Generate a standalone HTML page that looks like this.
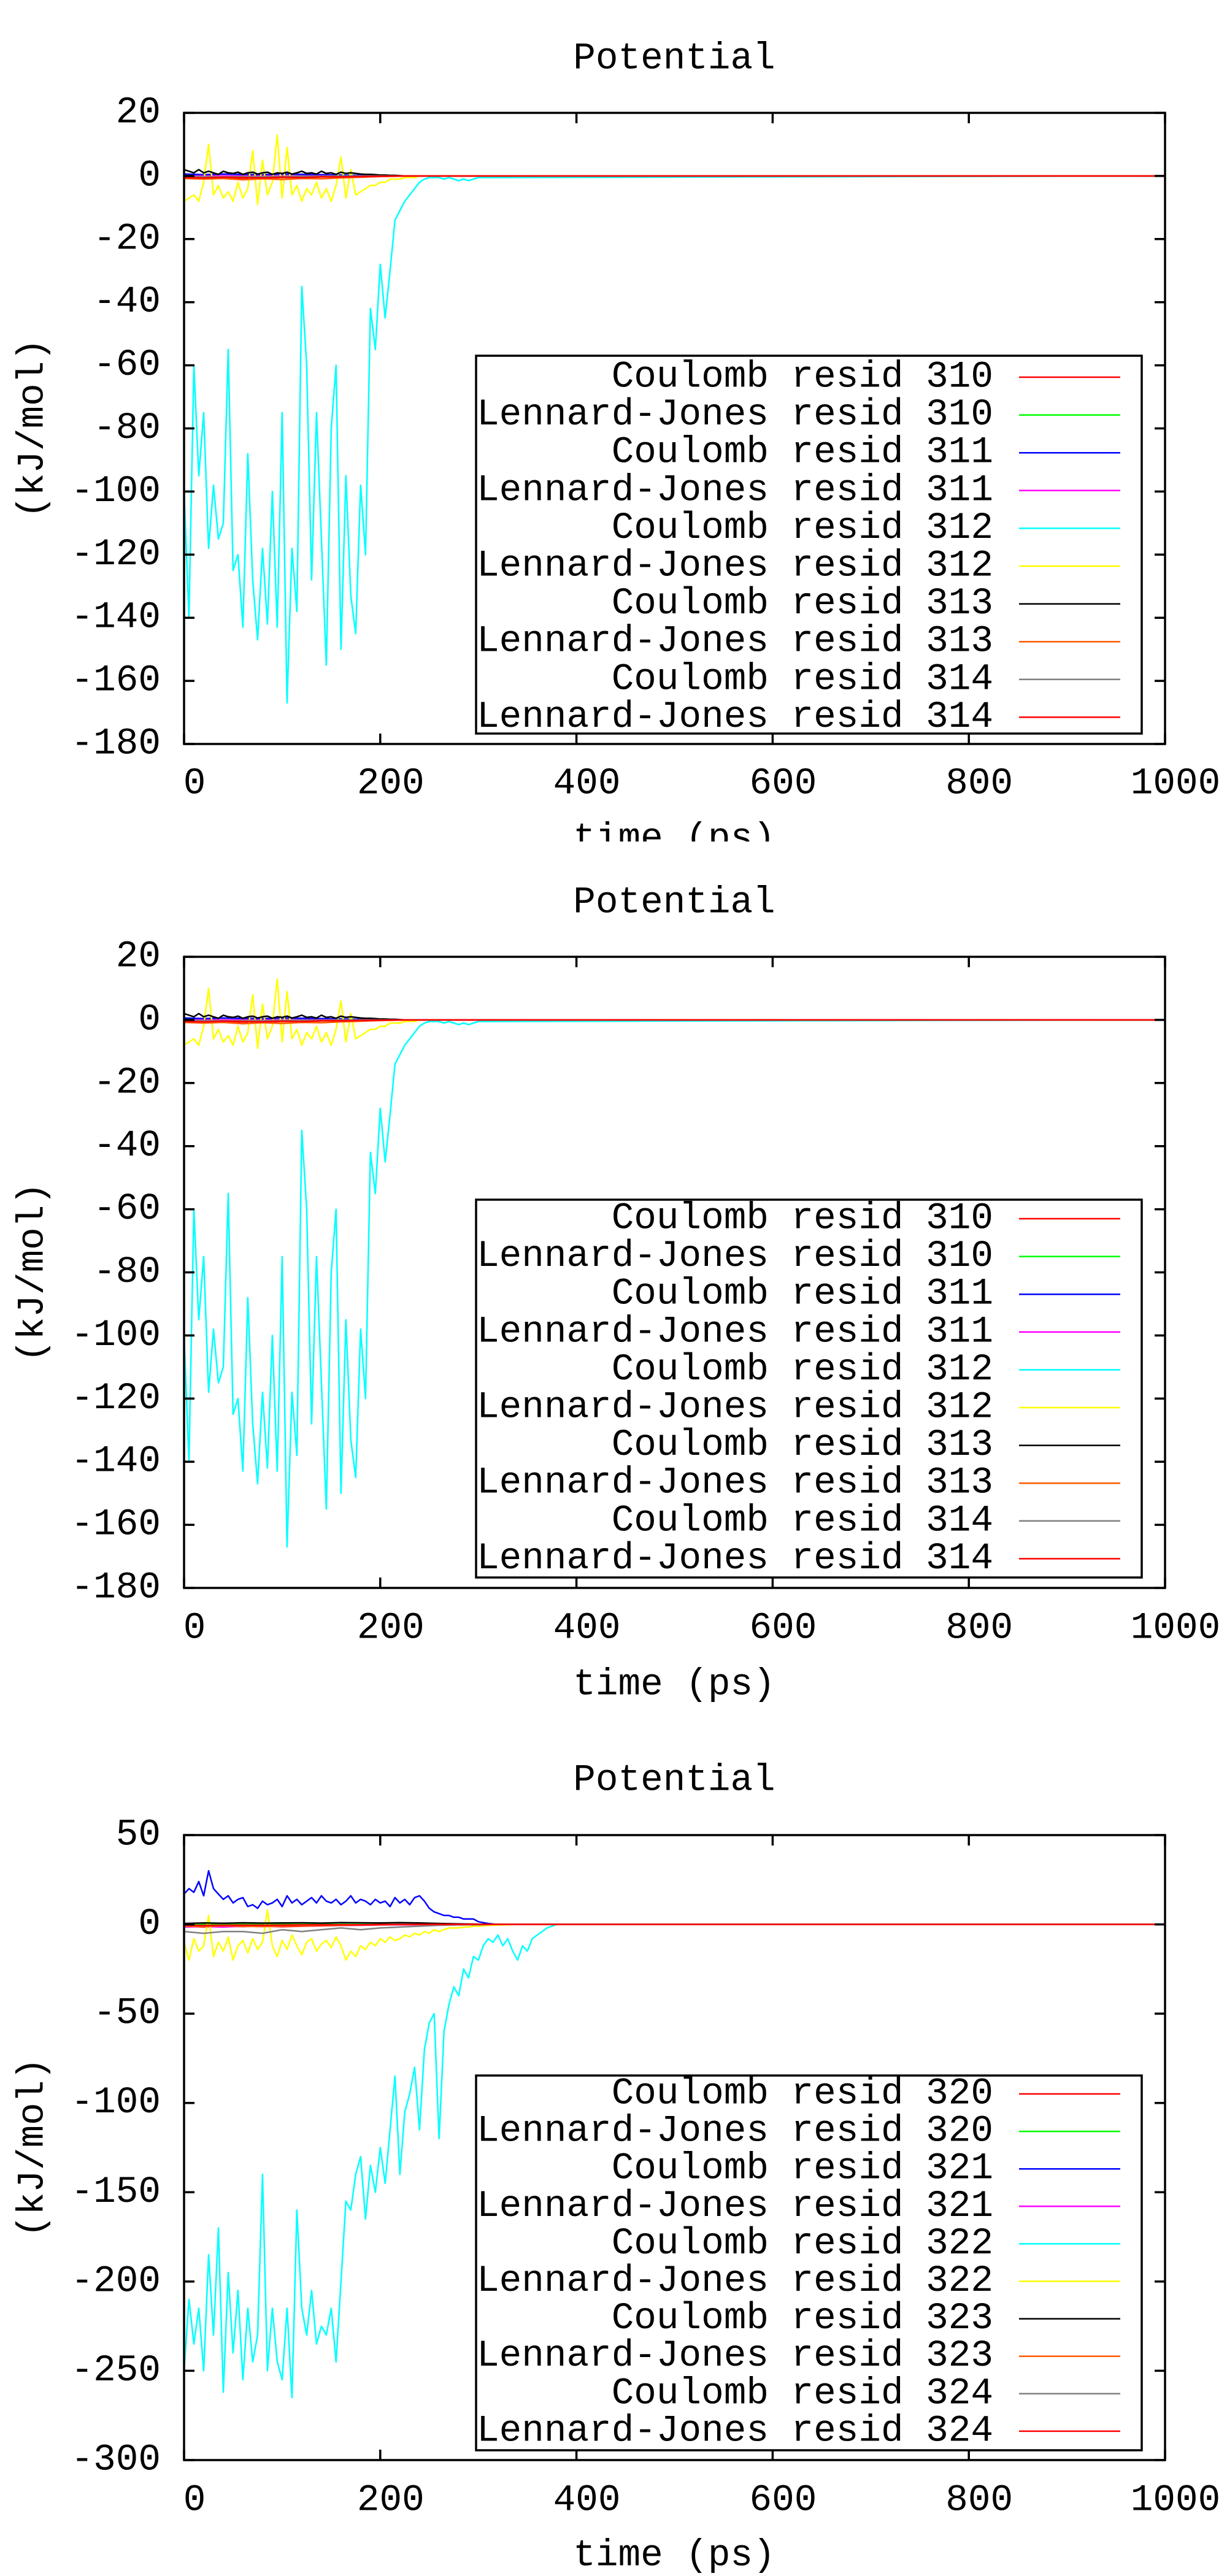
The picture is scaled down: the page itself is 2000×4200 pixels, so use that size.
<!DOCTYPE html>
<html><head><meta charset="utf-8"><title>Potential</title>
<style>html,body{margin:0;padding:0;background:#fff}svg{display:block}</style>
</head><body>
<svg id="root" width="2000" height="4200" viewBox="0 0 2000 4200" xmlns="http://www.w3.org/2000/svg" font-family="Liberation Mono, monospace"></svg>
<script>
// ===== DATA =====
const xTicks = [0, 200, 400, 600, 800, 1000];
const yTicksA = [20, 0, -20, -40, -60, -80, -100, -120, -140, -160, -180];
const yTicksB = [50, 0, -50, -100, -150, -200, -250, -300];
const legendA = ["Coulomb resid 310","Lennard-Jones resid 310","Coulomb resid 311","Lennard-Jones resid 311","Coulomb resid 312","Lennard-Jones resid 312","Coulomb resid 313","Lennard-Jones resid 313","Coulomb resid 314","Lennard-Jones resid 314"];
const legendB = ["Coulomb resid 320","Lennard-Jones resid 320","Coulomb resid 321","Lennard-Jones resid 321","Coulomb resid 322","Lennard-Jones resid 322","Coulomb resid 323","Lennard-Jones resid 323","Coulomb resid 324","Lennard-Jones resid 324"];
const seriesColors = ["#ff0000","#00ff00","#0000ff","#ff00ff","#00ffff","#ffff00","#000000","#ff5a00","#808080","#ff0000"];

// time arrays (ps)
const timeFine1 = [0,5,10,15,20,25,30,35,40,45,50,55,60,65,70,75,80,85,90,95,100,105,110,115,120,125,130,135,140,145,150,155,160,165,170,175,180,185,190,195,200,205,210,215,220,225,230,235,240,245,250,255,260,265,270,275,280,285,290,295,300,1000];
const timeCoarse1 = [0,20,40,60,80,100,120,140,160,180,200,220,240,260,1000];
const timeFine3 = [0,5,10,15,20,25,30,35,40,45,50,55,60,65,70,75,80,85,90,95,100,105,110,115,120,125,130,135,140,145,150,155,160,165,170,175,180,185,190,195,200,205,210,215,220,225,230,235,240,245,250,255,260,265,270,275,280,285,290,295,300,305,310,315,320,325,330,335,340,345,350,355,360,365,370,375,380,385,390,395,400,1000];
const timeCoarse3 = [0,20,40,60,80,100,120,140,160,180,200,220,240,260,280,300,320,340,1000];

// panel A (resid 310-314)
const coul310 = [-0.6,-0.8,-0.5,-0.7,-0.6,-0.5,-0.4,-0.3,-0.2,-0.1,0,0,0,0,0];
const lj310   = [0,0,0,0,0,0,0,0,0,0,0,0,0,0,0];
const coul311 = [0.6,0.4,0.6,0.5,0.4,0.6,0.5,0.4,0.3,0.2,0.1,0,0,0,0];
const lj311   = [0,0,0,0,0,0,0,0,0,0,0,0,0,0,0];
const coul312 = [-100,-140,-60,-95,-75,-118,-98,-115,-110,-55,-125,-120,-143,-88,-128,-147,-118,-142,-100,-143,-75,-167,-118,-138,-35,-60,-128,-75,-115,-155,-80,-60,-150,-95,-133,-145,-98,-120,-42,-55,-28,-45,-30,-14,-11,-8,-6,-4,-2,-1,-0.5,-0.5,-0.5,-1,-0.5,-1,-1.5,-1,-1.5,-1,-0.5,0];
const lj312   = [-8,-7,-6,-8,-2,10,-6,-3,-7,-5,-8,-2,-7,-4,8,-9,5,-6,-2,13,-7,9,-6,-3,-8,-4,-6,-2,-7,-4,-8,-3,6,-7,2,-6,-5,-4,-3,-3,-2,-2,-1,-1,-1,-0.5,-0.5,-0.5,0,0,0,0,0,0,0,0,0,0,0,0,0,0];
const coul313 = [2,1.5,1,2,1,1.5,1,0.5,1.5,1,0.8,1.2,0.5,1,1.2,0.6,1,1.2,0.5,1,0.8,1.2,0.6,1,1.5,0.8,1,0.6,1.5,0.8,1,0.5,1.2,0.8,1,0.8,0.6,0.5,0.5,0.4,0.3,0.3,0.2,0.2,0.1,0,0,0,0,0,0,0,0,0,0,0,0,0,0,0,0,0];
const lj313   = [-0.8,-1,-0.8,-1.2,-0.9,-1.1,-0.8,-0.9,-0.6,-0.4,-0.2,-0.1,0,0,0];
const coul314 = [-0.3,-0.2,-0.3,-0.2,-0.2,-0.2,-0.1,-0.1,0,0,0,0,0,0,0];
const lj314   = [-0.5,-0.6,-0.4,-0.5,-0.6,-0.4,-0.5,-0.3,-0.3,-0.2,-0.1,0,0,0,0];

// panel B (resid 320-324)
const coul320 = [-1,-1.5,-1,-1.2,-1,-1.3,-1,-0.8,-0.6,-0.5,-0.3,-0.2,-0.1,0,0,0,0,0,0];
const lj320   = [0,0,0,0,0,0,0,0,0,0,0,0,0,0,0,0,0,0,0];
const coul321 = [17,20,18,24,16,30,20,17,14,16,12,14,15,10,11,9,13,11,12,14,10,16,12,14,11,13,15,12,16,13,12,14,11,13,16,12,14,13,11,14,12,13,10,15,12,14,11,15,16,13,9,7,6,5,5,4,4,3,3,3,1.5,1,0.5,0.2,0,0,0,0,0,0,0,0,0,0,0,0,0,0,0,0,0,0];
const lj321   = [-1.5,-1.2,-1.5,-1,-1.2,-1,-0.8,-0.6,-0.5,-0.4,-0.3,-0.2,-0.1,0,0,0,0,0,0];
const coul322 = [-250,-210,-235,-215,-250,-185,-230,-170,-262,-195,-240,-205,-255,-215,-245,-230,-140,-250,-215,-245,-255,-215,-265,-160,-215,-230,-205,-235,-225,-230,-215,-245,-200,-155,-160,-140,-130,-165,-135,-150,-125,-145,-115,-85,-140,-105,-95,-80,-115,-70,-55,-50,-120,-60,-45,-35,-40,-25,-30,-18,-20,-12,-8,-10,-6,-12,-8,-15,-20,-12,-15,-8,-6,-4,-2,-1,0,0,0,0,0,0];
const lj322   = [-10,-20,-8,-15,-12,5,-18,-10,-15,-7,-20,-12,-9,-16,-8,-14,-10,8,-12,-18,-9,-14,-6,-12,-17,-10,-8,-15,-11,-9,-13,-7,-12,-20,-15,-18,-12,-14,-10,-12,-8,-10,-7,-9,-8,-6,-7,-5,-6,-4,-5,-3,-4,-3,-2,-2,-2,-1.5,-1.5,-1,-1,-0.8,-0.6,-0.5,-0.4,-0.3,-0.2,-0.1,0,0,0,0,0,0,0,0,0,0,0,0,0,0];
const coul323 = [0.5,0.8,0.6,0.9,0.7,0.8,0.9,0.7,1,0.9,0.8,1,0.8,0.5,0.3,0.1,0,0,0];
const lj323   = [-1,-1.2,-0.8,-1,-1.2,-0.9,-0.8,-0.6,-0.5,-0.3,-0.2,-0.1,0,0,0,0,0,0,0];
const coul324 = [-4,-5,-4,-4,-5,-3,-4,-3,-2,-3,-2,-1.5,-1,-0.5,-0.3,-0.2,0,0,0];
const lj324   = [-0.5,-0.6,-0.5,-0.4,-0.5,-0.4,-0.3,-0.3,-0.2,-0.2,-0.1,0,0,0,0,0,0,0,0];

// ===== RENDER =====
const NS = "http://www.w3.org/2000/svg";
const root = document.getElementById("root");
const FS = 61;
function mk(tag, attrs, parent) {
  const e = document.createElementNS(NS, tag);
  for (const k in attrs) e.setAttribute(k, attrs[k]);
  (parent || root).appendChild(e);
  return e;
}

const panels = [
  {id:"a", top:184, bottom:1213, ymax:20, ymin:-180, yticks:yTicksA, legend:legendA, titleY:96, xtickY:1278, xlabelY:1368, legTop:580, legBottom:1196, row1:615, rowStep:61.6, clipBottom:1372,
   series:[[timeCoarse1,coul310],[timeCoarse1,lj310],[timeCoarse1,coul311],[timeCoarse1,lj311],[timeFine1,coul312],[timeFine1,lj312],[timeFine1,coul313],[timeCoarse1,lj313],[timeCoarse1,coul314],[timeCoarse1,lj314]]},
  {id:"b", top:1560, bottom:2589, ymax:20, ymin:-180, yticks:yTicksA, legend:legendA, titleY:1472, xtickY:2655, xlabelY:2747, legTop:1956, legBottom:2572, row1:1987, rowStep:61.6, clipBottom:2800,
   series:[[timeCoarse1,coul310],[timeCoarse1,lj310],[timeCoarse1,coul311],[timeCoarse1,lj311],[timeFine1,coul312],[timeFine1,lj312],[timeFine1,coul313],[timeCoarse1,lj313],[timeCoarse1,coul314],[timeCoarse1,lj314]]},
  {id:"c", top:2992, bottom:4011, ymax:50, ymin:-300, yticks:yTicksB, legend:legendB, titleY:2903, xtickY:4077, xlabelY:4167, legTop:3384, legBottom:3995, row1:3414, rowStep:61.1, clipBottom:4200,
   series:[[timeCoarse3,coul320],[timeCoarse3,lj320],[timeFine3,coul321],[timeCoarse3,lj321],[timeFine3,coul322],[timeFine3,lj322],[timeCoarse3,coul323],[timeCoarse3,lj323],[timeCoarse3,coul324],[timeCoarse3,lj324]]}
];

const L = 300, R = 1899, XMIN = 0, XMAX = 1000;

panels.forEach(function(p, pi) {
  const cp = mk("clipPath", {id:"clip-panel-"+p.id});
  mk("rect", {x:0, y:0, width:2000, height:p.clipBottom}, cp);
  const g = mk("g", {"clip-path":"url(#clip-panel-"+p.id+")"});
  
  
  const xs = function(v){ return L + (v - XMIN) / (XMAX - XMIN) * (R - L); };
  const ys = function(v){ return p.top + (p.ymax - v) / (p.ymax - p.ymin) * (p.bottom - p.top); };

  const title = mk("text", {x:1099, y:p.titleY, "font-size":FS, "text-anchor":"middle", "dominant-baseline":"central", fill:"#000"}, g);
  title.textContent = "Potential";
  
  

  const plotClip = mk("clipPath", {id:"plotclip-"+p.id});
  mk("rect", {x:L, y:p.top, width:R-L, height:p.bottom-p.top}, plotClip);
  const sg = mk("g", {"clip-path":"url(#plotclip-"+p.id+")"}, g);
  
  
  p.series.forEach(function(s, si) {
    const t = s[0], v = s[1];
    const n = Math.min(t.length, v.length);
    let d = "";
    for (let i = 0; i < n; i++) d += (i ? "L" : "M") + xs(t[i]).toFixed(1) + " " + ys(v[i]).toFixed(1);
    const path = mk("path", {d:d, fill:"none", stroke:seriesColors[si], "stroke-width":2.5, "stroke-linejoin":"round"}, sg);
    
    
  });

  const frame = mk("rect", {x:L, y:p.top, width:R-L, height:p.bottom-p.top, fill:"none", stroke:"#000", "stroke-width":3.5}, g);
  
  

  xTicks.forEach(function(tv) {
    const x = xs(tv);
    const tk = mk("path", {d:"M"+x+" "+p.bottom+"V"+(p.bottom-17)+"M"+x+" "+p.top+"V"+(p.top+17), stroke:"#000", "stroke-width":3.5}, g);
    
    
    const lb = mk("text", {x:x+17, y:p.xtickY, "font-size":FS, "text-anchor":"middle", "dominant-baseline":"central", fill:"#000"}, g);
    lb.textContent = String(tv);
    
    
  });
  p.yticks.forEach(function(tv) {
    const y = ys(tv);
    const tk = mk("path", {d:"M"+L+" "+y+"H"+(L+17)+"M"+R+" "+y+"H"+(R-17), stroke:"#000", "stroke-width":3.5}, g);
    
    
    const lb = mk("text", {x:262, y:y, "font-size":FS, "text-anchor":"end", "dominant-baseline":"central", fill:"#000"}, g);
    lb.textContent = String(tv);
    
    
  });

  const cy = (p.top + p.bottom) / 2;
  const yl = mk("text", {x:54, y:cy, "font-size":FS, "text-anchor":"middle", "dominant-baseline":"central", transform:"rotate(-90 54 "+cy+")", fill:"#000"}, g);
  yl.textContent = "(kJ/mol)";
  
  

  const xl = mk("text", {x:1099, y:p.xlabelY, "font-size":FS, "text-anchor":"middle", "dominant-baseline":"central", fill:"#000"}, g);
  xl.textContent = "time (ps)";
  
  

  const lg = mk("g", {}, g);
  
  
  mk("rect", {x:776, y:p.legTop, width:1861-776, height:p.legBottom-p.legTop, fill:"#fff", stroke:"#000", "stroke-width":3.5}, lg);
  p.legend.forEach(function(name, i) {
    const y = p.row1 + i * p.rowStep;
    const e = mk("g", {}, lg);
    
    
    const tx = mk("text", {x:1619, y:y, "font-size":FS, "text-anchor":"end", "dominant-baseline":"central", fill:"#000"}, e);
    tx.textContent = name;
    mk("line", {x1:1661, x2:1826, y1:y, y2:y, stroke:seriesColors[i], "stroke-width":2.5}, e);
  });
});
</script>
</body></html>
